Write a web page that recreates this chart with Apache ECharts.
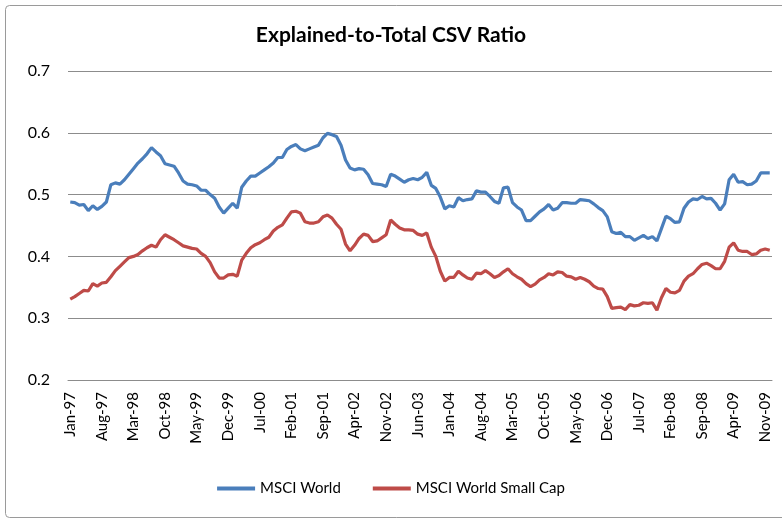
<!DOCTYPE html>
<html>
<head>
<meta charset="utf-8">
<script src="https://cdn.jsdelivr.net/npm/echarts@6/dist/echarts.min.js"></script>
<style>
  html, body { margin: 0; padding: 0; background: #fff; }
  #chart { width: 782px; height: 522px; }
</style>
</head>
<body>
<div id="chart"></div>
<script>
// month labels Jan-97 .. Dec-09
var monthNames = ['Jan','Feb','Mar','Apr','May','Jun','Jul','Aug','Sep','Oct','Nov','Dec'];
var categories = [];
for (var y = 1997; y <= 2009; y++) {
  for (var m = 0; m < 12; m++) {
    categories.push(monthNames[m] + '-' + String(y).slice(2));
  }
}

var seriesNames = ['MSCI World', 'MSCI World Small Cap'];

var msciWorld = [
  0.488, 0.487, 0.483, 0.484, 0.474, 0.482, 0.476, 0.481, 0.488, 0.516, 0.519, 0.517,
  0.524, 0.533, 0.542, 0.551, 0.558, 0.566, 0.576, 0.569, 0.563, 0.550, 0.548, 0.546,
  0.535, 0.522, 0.517, 0.516, 0.514, 0.507, 0.507, 0.500, 0.494, 0.480, 0.470, 0.478,
  0.486, 0.478, 0.512, 0.522, 0.530, 0.530, 0.535, 0.540, 0.545, 0.551, 0.560, 0.560,
  0.573, 0.578, 0.581, 0.574, 0.571, 0.574, 0.577, 0.580, 0.592, 0.599, 0.597, 0.594,
  0.580, 0.556, 0.543, 0.540, 0.542, 0.541, 0.532, 0.518, 0.517, 0.516, 0.513, 0.533,
  0.530, 0.525, 0.520, 0.524, 0.526, 0.524, 0.528, 0.536, 0.515, 0.510, 0.496, 0.477,
  0.482, 0.480, 0.495, 0.490, 0.492, 0.493, 0.506, 0.504, 0.504, 0.497, 0.489, 0.486,
  0.511, 0.512, 0.487, 0.480, 0.475, 0.458, 0.458, 0.465, 0.472, 0.477, 0.484, 0.475,
  0.478, 0.487, 0.487, 0.486, 0.486, 0.492, 0.491, 0.490, 0.485, 0.479, 0.474, 0.464,
  0.440, 0.437, 0.439, 0.432, 0.432, 0.426, 0.430, 0.434, 0.429, 0.432, 0.425, 0.445,
  0.465, 0.461, 0.455, 0.456, 0.478, 0.488, 0.493, 0.492, 0.497, 0.493, 0.494, 0.486,
  0.475, 0.485, 0.524, 0.533, 0.520, 0.521, 0.516, 0.517, 0.522, 0.535, 0.535, 0.535
];

var msciSmallCap = [
  0.331, 0.335, 0.340, 0.345, 0.344, 0.356, 0.352, 0.357, 0.358, 0.367, 0.377, 0.384,
  0.391, 0.398, 0.400, 0.403, 0.409, 0.414, 0.418, 0.415, 0.427, 0.435, 0.431, 0.427,
  0.422, 0.417, 0.415, 0.413, 0.412, 0.405, 0.400, 0.390, 0.375, 0.365, 0.365, 0.370,
  0.371, 0.368, 0.394, 0.405, 0.414, 0.419, 0.422, 0.427, 0.431, 0.441, 0.447, 0.451,
  0.462, 0.472, 0.473, 0.470, 0.456, 0.454, 0.454, 0.456, 0.464, 0.467, 0.462, 0.452,
  0.444, 0.420, 0.409, 0.418, 0.429, 0.436, 0.434, 0.424, 0.425, 0.430, 0.435, 0.459,
  0.452, 0.446, 0.443, 0.443, 0.442, 0.436, 0.434, 0.438, 0.415, 0.400, 0.376, 0.360,
  0.366, 0.366, 0.376, 0.370, 0.365, 0.363, 0.373, 0.372, 0.377, 0.372, 0.366, 0.369,
  0.375, 0.380, 0.372, 0.367, 0.363, 0.356, 0.351, 0.355, 0.362, 0.366, 0.372, 0.370,
  0.375, 0.374, 0.368, 0.367, 0.363, 0.366, 0.363, 0.359, 0.352, 0.348, 0.347, 0.335,
  0.316, 0.317, 0.318, 0.314, 0.322, 0.320, 0.321, 0.325, 0.324, 0.325, 0.313, 0.333,
  0.348, 0.342, 0.341, 0.345, 0.360, 0.368, 0.372, 0.380, 0.387, 0.389, 0.385, 0.380,
  0.380, 0.392, 0.415, 0.422, 0.410, 0.408, 0.408, 0.403, 0.404, 0.410, 0.412, 0.410
];

var chart = echarts.init(document.getElementById('chart'));
var font = 'Lato, "Open Sans", sans-serif';

var option = {
  animation: false,
  backgroundColor: '#ffffff',
  textStyle: { fontFamily: font },
  title: {
    text: 'Explained-to-Total CSV Ratio',
    left: 'center',
    top: 20,
    textStyle: { fontSize: 21, fontWeight: 'bold', color: '#000', fontFamily: font }
  },
  graphic: [{
    type: 'rect',
    shape: { x: 5.5, y: 5.5, width: 800, height: 512, r: 4 },
    style: { fill: 'none', stroke: '#9a9a9a', lineWidth: 1 },
    silent: true
  }],
  legend: {
    bottom: 21,
    left: 'center',
    itemWidth: 38,
    itemHeight: 4,
    itemGap: 32,
    icon: 'rect',
    textStyle: { fontSize: 15, color: '#000', fontFamily: font },
    data: seriesNames
  },
  grid: { left: 68, right: 10, top: 71, bottom: 142 },
  xAxis: {
    type: 'category',
    data: categories,
    boundaryGap: true,
    axisLine: { lineStyle: { color: '#8c8c8c', width: 1 } },
    axisTick: { show: false },
    axisLabel: {
      interval: 6,
      rotate: 90,
      margin: 12,
      fontSize: 15,
      color: '#000',
      fontFamily: font
    },
    splitLine: { show: false }
  },
  yAxis: {
    type: 'value',
    min: 0.2,
    max: 0.7,
    interval: 0.1,
    axisLine: { show: false },
    axisTick: { show: false },
    axisLabel: {
      margin: 18,
      fontSize: 16,
      color: '#000',
      fontFamily: font,
      formatter: function (v) { return v.toFixed(1); }
    },
    splitLine: { lineStyle: { color: '#8c8c8c', width: 1 } }
  },
  series: [
    {
      name: seriesNames[0],
      type: 'line',
      data: msciWorld,
      showSymbol: false,
      color: '#4a7ebb',
      lineStyle: { width: 3.2, color: '#4a7ebb' }
    },
    {
      name: seriesNames[1],
      type: 'line',
      data: msciSmallCap,
      showSymbol: false,
      color: '#be4b48',
      lineStyle: { width: 3.2, color: '#be4b48' }
    }
  ]
};

chart.setOption(option);
</script>
</body>
</html>
